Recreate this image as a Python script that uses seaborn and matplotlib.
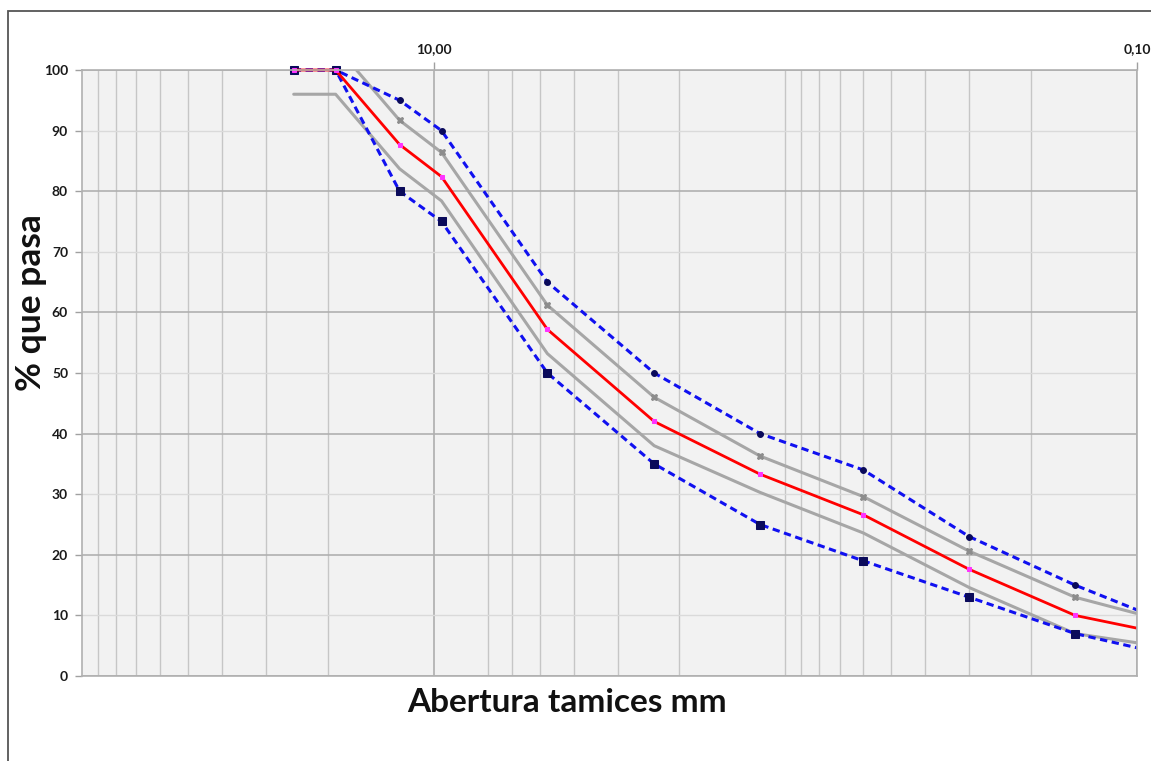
import matplotlib
matplotlib.use("Agg")
import matplotlib.pyplot as plt
from matplotlib.patches import Rectangle
from matplotlib.transforms import Bbox, TransformedBbox
import pandas as pd
import seaborn as sns

# Sieve openings (mm)
sieve_mm = [25.0, 19.0, 12.5, 9.5, 4.75, 2.36, 1.18, 0.60, 0.30, 0.15, 0.075]
# Specification band (% passing)
spec_upper = [100, 100, 95, 90, 65, 50, 40, 34, 23, 15, 8]
spec_lower = [100, 100, 80, 75, 50, 35, 25, 19, 13, 7, 3]
# Design gradation and its working tolerance band
design = [100, 100, 87.7, 82.4, 57.2, 42.0, 33.3, 26.6, 17.6, 10.0, 6.4]
tol_upper = [104, 104, 91.7, 86.4, 61.2, 46.0, 36.3, 29.6, 20.6, 13.0, 8.4]
tol_lower = [96, 96, 83.7, 78.4, 53.2, 38.0, 30.3, 23.6, 14.6, 7.0, 4.4]

# Axis ticks and grid
x_tick_values = [10, 0.1]
x_tick_labels = ["10,00", "0,10"]
x_grid_minor = [90, 80, 70, 60, 50, 40, 30, 20,
                7, 6, 5, 4, 3, 2,
                1, 0.9, 0.8, 0.7, 0.6, 0.5, 0.4, 0.3, 0.2]
y_major = [0, 20, 40, 60, 80, 100]
y_minor = [10, 30, 50, 70, 90]

sns.set_style("white")
plt.rcParams["font.family"] = ["Lato", "DejaVu Sans"]

W, H = 1151, 761
fig = plt.figure(figsize=(W / 100, H / 100), dpi=100)
ax = fig.add_axes([82 / W, 1 - 676 / H, (1137 - 82) / W, (676 - 70) / H])
ax.set_facecolor("#f2f2f2")

df = pd.DataFrame({
    "mm": sieve_mm,
    "spec_upper": spec_upper,
    "spec_lower": spec_lower,
    "design": design,
    "tol_upper": tol_upper,
    "tol_lower": tol_lower,
})

ax.set_xscale("log")

series = [
    ("tol_upper", dict(color="#a6a6a6", lw=2.2, marker="X", markersize=4.5,
                       markerfacecolor="#8c8c8c", markeredgecolor="#8c8c8c")),
    ("tol_lower", dict(color="#a6a6a6", lw=2.2)),
    ("spec_upper", dict(color="#1010f0", lw=2.2, linestyle=(0, (2.4, 1.5)),
                        marker="o", markersize=4.2,
                        markerfacecolor="#0a0a5a", markeredgecolor="#0a0a5a")),
    ("spec_lower", dict(color="#1010f0", lw=2.2, linestyle=(0, (2.4, 1.5)),
                        marker="s", markersize=5.5,
                        markerfacecolor="#0a0a5a", markeredgecolor="#0a0a5a")),
    ("design", dict(color="#ff0000", lw=2.0, marker="s", markersize=3.2,
                    markerfacecolor="#ff33ff", markeredgecolor="#ff33ff")),
]

clip = TransformedBbox(Bbox([[0, -0.02], [1, 1.02]]), ax.transAxes)
for col, style in series:
    n_before = len(ax.lines)
    sns.lineplot(data=df, x="mm", y=col, ax=ax, estimator=None, sort=False, **style)
    for ln in ax.lines[n_before:]:
        if col != "tol_upper":
            ln.set_clip_box(clip)

ax.set_xlim(100, 0.1)
ax.set_ylim(0, 100)

# Ticks on top for the sieve axis
ax.xaxis.tick_top()
ax.set_xticks(x_tick_values, x_tick_labels)
ax.set_xticks(x_grid_minor, minor=True)
ax.xaxis.set_minor_formatter(matplotlib.ticker.NullFormatter())
ax.tick_params(axis="x", which="major", direction="out", length=6, width=1,
               color="#a0a0a0", pad=5, labelsize=10, labelcolor="#1a1a1a")
ax.tick_params(axis="x", which="minor", length=0)
for lbl in ax.get_xticklabels():
    lbl.set_fontweight("bold")

ax.set_yticks(y_major, [str(v) for v in y_major])
ax.set_yticks(y_minor, [str(v) for v in y_minor], minor=True)
ax.tick_params(axis="y", which="both", direction="out", length=5, width=1,
               color="#a0a0a0", pad=5, labelsize=10, labelcolor="#1a1a1a", left=True)
for lbl in ax.get_yticklabels() + ax.get_yticklabels(minor=True):
    lbl.set_fontweight("bold")

ax.grid(False)
ax.xaxis.grid(True, which="major", color="#a8a8a8", lw=1.1)
ax.xaxis.grid(True, which="minor", color="#c6c6c6", lw=1.0)
ax.yaxis.grid(True, which="major", color="#b0b0b0", lw=1.2)
ax.yaxis.grid(True, which="minor", color="#dadada", lw=1.0)
ax.set_axisbelow(True)

for side in ["left", "right", "top", "bottom"]:
    ax.spines[side].set_visible(True)
    ax.spines[side].set_color("#b0b0b0")
    ax.spines[side].set_linewidth(1.2)

ax.set_xlabel("")
ax.set_ylabel("")
fig.text(567 / W, 1 - 702 / H, "Abertura tamices mm", ha="center", va="center",
         fontsize=24, fontweight="bold", color="#111111")
fig.text(31 / W, 1 - 303 / H, "% que pasa", ha="center", va="center",
         rotation=90, fontsize=25.5, fontweight="bold", color="#111111")

# Outer frame of the figure
fig.add_artist(Rectangle((8 / W, -0.1), 1.5, 1 - 11 / H + 0.1,
                         transform=fig.transFigure, fill=False,
                         edgecolor="#555555", linewidth=1.3))

fig.savefig("out.png", dpi=100, facecolor="white")
